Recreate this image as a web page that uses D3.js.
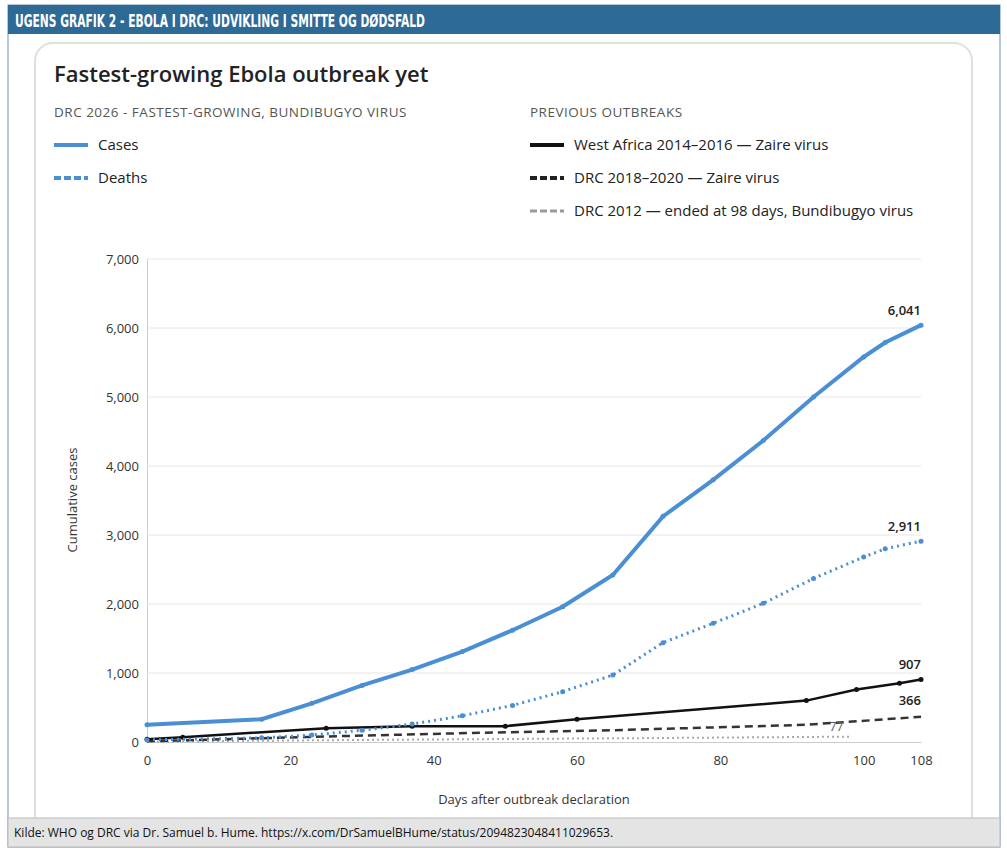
<!DOCTYPE html>
<html><head><meta charset="utf-8">
<script src="https://cdn.jsdelivr.net/npm/d3@7"></script>
<style>body{margin:0;background:#fff;font-family:"Open Sans",sans-serif}</style>
</head><body><svg id="c" width="1007" height="852"></svg>
<script>
// data
var casesDays   = [0,16,23,30,37,44,51,58,65,72,79,86,93,100,103,108];
var casesVals   = [250,330,560,820,1050,1310,1620,1960,2420,3270,3800,4370,5000,5580,5790,6041];
var deathsDays  = [0,16,23,30,37,44,51,58,65,72,79,86,93,100,103,108];
var deathsVals  = [30,60,100,170,260,380,530,730,970,1440,1720,2010,2370,2680,2800,2911];
var waDays      = [0,5,25,37,50,60,92,99,105,108];
var waVals      = [40,70,200,230,230,330,600,760,850,907];
var drc18Days   = [0,25,45,65,92,99,108];
var drc18Vals   = [10,80,130,170,250,300,366];
var drc12Days   = [0,30,60,98];
var drc12Vals   = [5,30,50,77];
var yTicks      = [0,1000,2000,3000,4000,5000,6000,7000];
var xTicks      = [0,20,40,60,80,100,108];

var svg = d3.select("#c");
var blue = "#4a8fd4";

// outer frame + header
svg.append("rect").attr("x",8).attr("y",5).attr("width",992).attr("height",842).attr("fill","#fff").attr("stroke","#6d8fae");
svg.append("rect").attr("x",8).attr("y",5).attr("width",992).attr("height",29).attr("fill","#2e6a96");
svg.append("text").attr("x",15).attr("y",27).attr("fill","#fff")
   .attr("textLength",410).attr("lengthAdjust","spacingAndGlyphs")
   .style("font-family","'DejaVu Sans Condensed','Liberation Sans Narrow',sans-serif").style("font-weight","bold").style("font-size","17px")
   .text("UGENS GRAFIK 2 - EBOLA I DRC: UDVIKLING I SMITTE OG DØDSFALD");

// panel
svg.append("rect").attr("x",35).attr("y",43).attr("width",937).attr("height",800).attr("rx",18)
   .attr("fill","#fff").attr("stroke","#dde1e4").attr("stroke-width",2);
svg.append("text").attr("x",54).attr("y",82).attr("fill","#222").style("font-size","22px").style("font-weight",600)
   .text("Fastest-growing Ebola outbreak yet");

// legend
function hdr(x,t){svg.append("text").attr("x",x).attr("y",117).attr("fill","#555").style("font-size","13.5px").style("letter-spacing","0.5px").text(t);}
hdr(54,"DRC 2026 - FASTEST-GROWING, BUNDIBUGYO VIRUS");
hdr(530,"PREVIOUS OUTBREAKS");
function leg(x,y,col,dash,w,t){
  svg.append("line").attr("x1",x).attr("x2",x+34).attr("y1",y).attr("y2",y).attr("stroke",col).attr("stroke-width",w).attr("stroke-dasharray",dash);
  svg.append("text").attr("x",x+44).attr("y",y+5).attr("fill","#222").style("font-size","15px").text(t);
}
leg(54,145,blue,null,4,"Cases");
leg(54,178,blue,"7,3",4,"Deaths");
leg(530,145,"#111",null,4,"West Africa 2014–2016 — Zaire virus");
leg(530,178,"#222","7,3",4,"DRC 2018–2020 — Zaire virus");
leg(530,211,"#999","7,3",3,"DRC 2012 — ended at 98 days, Bundibugyo virus");

// scales
var x = d3.scaleLinear().domain([0,108]).range([147,921]);
var y = d3.scaleLinear().domain([0,7000]).range([742,259]);

svg.append("g").attr("transform","translate(0,742)")
  .call(d3.axisBottom(x).tickValues(xTicks).tickSize(0).tickPadding(14))
  .call(g=>{g.select(".domain").attr("stroke","#ccc");g.selectAll("text").attr("fill","#333").style("font-size","13px").style("font-family","'Open Sans',sans-serif");});
svg.append("g").attr("transform","translate(147,0)")
  .call(d3.axisLeft(y).tickValues(yTicks).tickSize(0).tickPadding(8).tickFormat(d3.format(",")))
  .call(g=>{g.select(".domain").attr("stroke","#ccc");g.selectAll("text").attr("fill","#333").style("font-size","13px").style("font-family","'Open Sans',sans-serif");});
svg.append("g").selectAll("line").data(yTicks.slice(1)).join("line")
  .attr("x1",147).attr("x2",921).attr("y1",y).attr("y2",y).attr("stroke","#e6e6e6");

svg.append("text").attr("transform","translate(77,500) rotate(-90)").attr("text-anchor","middle")
   .attr("fill","#333").style("font-size","13px").text("Cumulative cases");
svg.append("text").attr("x",534).attr("y",804).attr("text-anchor","middle")
   .attr("fill","#333").style("font-size","13px").text("Days after outbreak declaration");

// series
var line = d3.line().x(d=>x(d[0])).y(d=>y(d[1]));
function series(days,vals,col,w,dash,dots){
  var pts = days.map((d,i)=>[d,vals[i]]);
  svg.append("path").datum(pts).attr("d",line).attr("fill","none").attr("stroke",col)
     .attr("stroke-width",w).attr("stroke-dasharray",dash);
  if(dots) svg.append("g").selectAll("circle").data(pts).join("circle")
     .attr("cx",d=>x(d[0])).attr("cy",d=>y(d[1])).attr("r",2.5).attr("fill",col);
}
series(drc12Days,drc12Vals,"#aaa",2,"2,3",false);
series(drc18Days,drc18Vals,"#333",2.5,"8,5",false);
series(waDays,waVals,"#111",2.5,null,true);
series(deathsDays,deathsVals,blue,3,"2,4",true);
series(casesDays,casesVals,blue,4,null,true);

// end labels
function lab(d,v,t,dy){svg.append("text").attr("x",x(d)).attr("y",y(v)+dy).attr("text-anchor","end")
   .attr("fill","#222").style("font-size","13px").style("font-weight",600).text(t);}
lab(108,6041,"6,041",-10);
lab(108,2911,"2,911",-10);
lab(108,907,"907",-10);
lab(108,366,"366",-12);
svg.append("text").attr("x",x(98)-6).attr("y",y(77)-6).attr("text-anchor","end")
   .attr("fill","#555").style("font-size","12px").text("77");

// footer
svg.append("rect").attr("x",8).attr("y",818).attr("width",992).attr("height",29).attr("fill","#e4e4e4").attr("stroke","#bbb");
svg.append("text").attr("x",14).attr("y",837).attr("fill","#111").style("font-size","12px")
   .style("font-family","'Liberation Sans Narrow','Open Sans',sans-serif")
   .text("Kilde: WHO og DRC via Dr. Samuel b. Hume. https://x.com/DrSamuelBHume/status/2094823048411029653.");
</script></body></html>
